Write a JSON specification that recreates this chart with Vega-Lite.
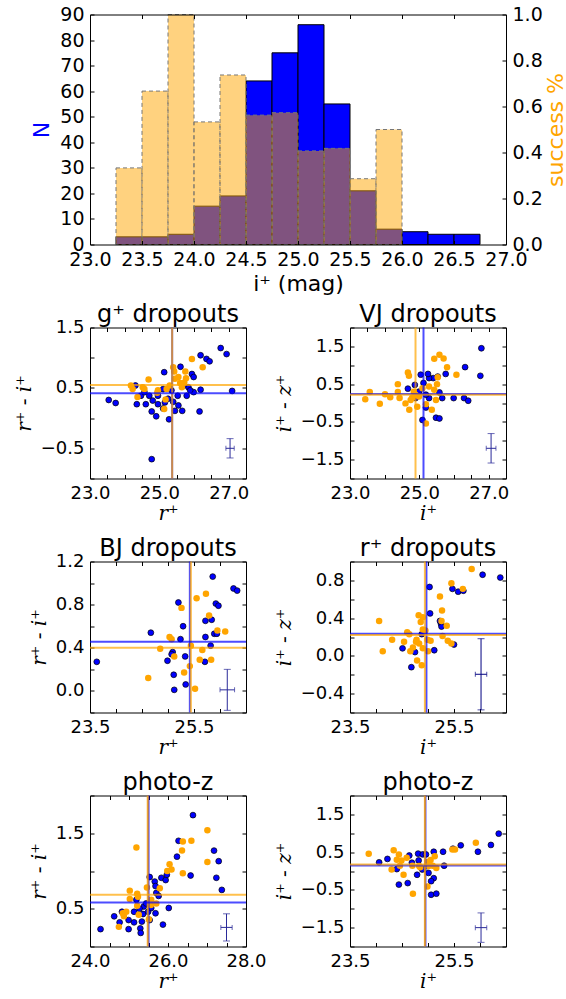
{
"$schema":"https://vega.github.io/schema/vega-lite/v6.json",
"padding":{"left":13,"top":5.5,"right":5,"bottom":5},
"bounds":"flush",
"columns":2,
"align":"each",
"spacing":{"row":83,"column":104},
"datasets":{
"hist":[
{"lo":23.25,"hi":23.5,"n":3,"s":0.333},
{"lo":23.5,"hi":23.75,"n":3,"s":0.667},
{"lo":23.75,"hi":24.0,"n":4,"s":1.0},
{"lo":24.0,"hi":24.25,"n":15,"s":0.533},
{"lo":24.25,"hi":24.5,"n":19,"s":0.737},
{"lo":24.5,"hi":24.75,"n":64,"s":0.5625},
{"lo":24.75,"hi":25.0,"n":75,"s":0.573},
{"lo":25.0,"hi":25.25,"n":86,"s":0.407},
{"lo":25.25,"hi":25.5,"n":55,"s":0.418},
{"lo":25.5,"hi":25.75,"n":21,"s":0.286},
{"lo":25.75,"hi":26.0,"n":6,"s":0.5},
{"lo":26.0,"hi":26.25,"n":5,"s":0},
{"lo":26.25,"hi":26.5,"n":4,"s":0},
{"lo":26.5,"hi":26.75,"n":4,"s":0}
],
"blue":[
{"p":1,"x":23.54,"y":0.30},{"p":1,"x":23.74,"y":0.25},{"p":1,"x":26.77,"y":1.16},{"p":1,"x":26.94,"y":1.06},{"p":1,"x":27.10,"y":0.45},{"p":1,"x":26.19,"y":1.04},{"p":1,"x":26.36,"y":0.98},{"p":1,"x":26.45,"y":0.94},{"p":1,"x":26.19,"y":0.47},{"p":1,"x":26.16,"y":0.11},{"p":1,"x":24.78,"y":-0.68},{"p":1,"x":25.28,"y":-0.02},{"p":1,"x":25.61,"y":0.85},{"p":1,"x":25.14,"y":0.76},{"p":1,"x":25.94,"y":0.73},{"p":1,"x":25.99,"y":0.68},{"p":1,"x":24.31,"y":0.54},{"p":1,"x":25.45,"y":0.12},{"p":1,"x":25.66,"y":0.12},{"p":1,"x":24.91,"y":0.03},{"p":1,"x":24.78,"y":0.11},{"p":1,"x":24.35,"y":0.23},{"p":1,"x":24.61,"y":0.23},{"p":1,"x":24.71,"y":0.37},{"p":1,"x":24.96,"y":0.37},{"p":1,"x":25.11,"y":0.48},{"p":1,"x":25.53,"y":0.37},{"p":1,"x":25.79,"y":0.37},{"p":1,"x":25.99,"y":0.43},{"p":1,"x":25.84,"y":0.51},{"p":1,"x":25.25,"y":0.32},{"p":1,"x":25.40,"y":0.27},{"p":1,"x":24.96,"y":0.23},{"p":1,"x":24.47,"y":0.37},{"p":1,"x":25.11,"y":0.16},{"p":1,"x":25.70,"y":0.54},{"p":1,"x":25.55,"y":0.21},{"p":1,"x":25.16,"y":0.26},{"p":1,"x":24.81,"y":0.29},{"p":1,"x":25.89,"y":0.46},{"p":1,"x":24.57,"y":0.43},{"p":1,"x":25.35,"y":0.46},
{"p":2,"x":26.79,"y":1.45},{"p":2,"x":26.76,"y":0.72},{"p":2,"x":26.32,"y":0.95},{"p":2,"x":25.76,"y":0.77},{"p":2,"x":25.53,"y":0.70},{"p":2,"x":25.40,"y":0.66},{"p":2,"x":25.28,"y":0.66},{"p":2,"x":25.25,"y":0.77},{"p":2,"x":25.04,"y":0.75},{"p":2,"x":25.12,"y":0.53},{"p":2,"x":24.87,"y":0.48},{"p":2,"x":24.67,"y":0.38},{"p":2,"x":24.99,"y":0.30},{"p":2,"x":25.58,"y":0.28},{"p":2,"x":25.66,"y":0.13},{"p":2,"x":25.99,"y":0.13},{"p":2,"x":26.29,"y":0.13},{"p":2,"x":26.41,"y":0.06},{"p":2,"x":25.28,"y":0.13},{"p":2,"x":25.19,"y":-0.12},{"p":2,"x":25.09,"y":-0.45},{"p":2,"x":25.48,"y":-0.39},{"p":2,"x":25.58,"y":-0.41},{"p":2,"x":24.89,"y":0.13},{"p":2,"x":25.19,"y":0.22},
{"p":3,"x":23.63,"y":0.27},{"p":3,"x":24.67,"y":0.54},{"p":3,"x":25.20,"y":0.82},{"p":3,"x":25.29,"y":0.60},{"p":3,"x":25.24,"y":0.48},{"p":3,"x":25.09,"y":0.36},{"p":3,"x":25.07,"y":0.34},{"p":3,"x":24.99,"y":0.28},{"p":3,"x":25.11,"y":0.15},{"p":3,"x":25.12,"y":0.01},{"p":3,"x":25.34,"y":0.06},{"p":3,"x":25.33,"y":0.32},{"p":3,"x":25.86,"y":1.06},{"p":3,"x":26.26,"y":0.95},{"p":3,"x":26.33,"y":0.93},{"p":3,"x":25.92,"y":0.81},{"p":3,"x":25.97,"y":0.79},{"p":3,"x":25.72,"y":0.65},{"p":3,"x":25.84,"y":0.66},{"p":3,"x":25.72,"y":0.50},{"p":3,"x":25.89,"y":0.53},{"p":3,"x":25.94,"y":0.53},{"p":3,"x":25.82,"y":0.42},{"p":3,"x":25.71,"y":0.27},
{"p":4,"x":24.51,"y":0.08},{"p":4,"x":24.75,"y":0.04},{"p":4,"x":24.68,"y":-0.12},{"p":4,"x":24.88,"y":0.23},{"p":4,"x":25.03,"y":0.73},{"p":4,"x":25.04,"y":0.45},{"p":4,"x":25.12,"y":0.06},{"p":4,"x":25.25,"y":0.34},{"p":4,"x":25.26,"y":0.31},{"p":4,"x":25.47,"y":0.71},{"p":4,"x":25.58,"y":0.68},{"p":4,"x":25.68,"y":0.69},{"p":4,"x":26.05,"y":0.86},{"p":4,"x":26.39,"y":0.83},{"p":4,"x":25.50,"y":0.12},{"p":4,"x":25.23,"y":0.37},
{"p":5,"x":24.27,"y":0.23},{"p":5,"x":24.62,"y":0.40},{"p":5,"x":24.76,"y":0.32},{"p":5,"x":24.82,"y":0.46},{"p":5,"x":24.99,"y":0.35},{"p":5,"x":24.99,"y":0.23},{"p":5,"x":25.13,"y":0.32},{"p":5,"x":25.13,"y":0.46},{"p":5,"x":25.19,"y":0.62},{"p":5,"x":25.29,"y":0.24},{"p":5,"x":25.30,"y":0.18},{"p":5,"x":25.33,"y":0.33},{"p":5,"x":25.36,"y":0.43},{"p":5,"x":25.38,"y":0.53},{"p":5,"x":25.44,"y":0.57},{"p":5,"x":25.53,"y":0.92},{"p":5,"x":25.66,"y":0.86},{"p":5,"x":25.68,"y":0.80},{"p":5,"x":25.70,"y":0.71},{"p":5,"x":25.76,"y":0.67},{"p":5,"x":25.68,"y":0.44},{"p":5,"x":25.53,"y":0.35},{"p":5,"x":25.83,"y":0.91},{"p":5,"x":25.94,"y":0.88},{"p":5,"x":25.97,"y":0.95},{"p":5,"x":25.87,"y":0.29},{"p":5,"x":26.02,"y":0.51},{"p":5,"x":26.23,"y":1.19},{"p":5,"x":26.27,"y":1.40},{"p":5,"x":26.58,"y":0.94},{"p":5,"x":26.64,"y":1.74},{"p":5,"x":27.18,"y":1.27},{"p":5,"x":27.30,"y":1.13},{"p":5,"x":27.24,"y":0.91},{"p":5,"x":27.38,"y":0.75},{"p":5,"x":25.49,"y":0.46},{"p":5,"x":25.57,"y":0.51},{"p":5,"x":25.27,"y":0.50},
{"p":6,"x":24.06,"y":0.23},{"p":6,"x":24.22,"y":0.32},{"p":6,"x":24.44,"y":-0.36},{"p":6,"x":24.61,"y":-0.32},{"p":6,"x":24.64,"y":0.41},{"p":6,"x":24.69,"y":0.22},{"p":6,"x":24.81,"y":0.46},{"p":6,"x":24.82,"y":0.28},{"p":6,"x":24.90,"y":0.44},{"p":6,"x":24.96,"y":0.44},{"p":6,"x":25.11,"y":0.51},{"p":6,"x":25.29,"y":0.51},{"p":6,"x":25.31,"y":0.14},{"p":6,"x":25.48,"y":0.59},{"p":6,"x":25.63,"y":0.68},{"p":6,"x":25.96,"y":0.51},{"p":6,"x":26.21,"y":0.69},{"p":6,"x":26.36,"y":0.99},{"p":6,"x":25.06,"y":-0.63},{"p":6,"x":25.16,"y":-0.60},{"p":6,"x":25.11,"y":-0.19},{"p":6,"x":25.06,"y":-0.27},{"p":6,"x":25.01,"y":-0.05},{"p":6,"x":24.79,"y":-0.10},{"p":6,"x":24.40,"y":0.05},{"p":6,"x":24.89,"y":0.04},{"p":6,"x":24.98,"y":0.13}
],
"orange":[
{"p":1,"x":24.18,"y":0.54},{"p":1,"x":24.23,"y":0.48},{"p":1,"x":24.52,"y":0.51},{"p":1,"x":24.57,"y":0.48},{"p":1,"x":24.69,"y":0.64},{"p":1,"x":24.37,"y":0.35},{"p":1,"x":24.94,"y":0.42},{"p":1,"x":25.18,"y":0.31},{"p":1,"x":25.14,"y":0.15},{"p":1,"x":25.21,"y":0.48},{"p":1,"x":25.40,"y":0.84},{"p":1,"x":25.43,"y":0.77},{"p":1,"x":25.45,"y":0.65},{"p":1,"x":25.55,"y":0.68},{"p":1,"x":25.60,"y":0.58},{"p":1,"x":25.72,"y":0.59},{"p":1,"x":25.75,"y":0.77},{"p":1,"x":25.77,"y":0.66},{"p":1,"x":25.65,"y":0.51},{"p":1,"x":25.94,"y":0.98},{"p":1,"x":26.25,"y":0.84},{"p":1,"x":25.30,"y":0.54},{"p":1,"x":24.96,"y":0.46},
{"p":2,"x":23.44,"y":0.10},{"p":2,"x":23.57,"y":0.29},{"p":2,"x":23.86,"y":-0.02},{"p":2,"x":24.01,"y":0.23},{"p":2,"x":24.16,"y":0.15},{"p":2,"x":24.38,"y":0.50},{"p":2,"x":24.38,"y":0.29},{"p":2,"x":24.43,"y":0.13},{"p":2,"x":24.67,"y":0.81},{"p":2,"x":24.70,"y":0.72},{"p":2,"x":24.60,"y":-0.01},{"p":2,"x":24.71,"y":-0.18},{"p":2,"x":24.94,"y":-0.10},{"p":2,"x":24.84,"y":0.30},{"p":2,"x":24.89,"y":0.22},{"p":2,"x":24.99,"y":0.17},{"p":2,"x":24.79,"y":0.13},{"p":2,"x":25.36,"y":-0.18},{"p":2,"x":25.19,"y":-0.54},{"p":2,"x":25.43,"y":1.17},{"p":2,"x":25.58,"y":1.28},{"p":2,"x":25.70,"y":1.18},{"p":2,"x":25.80,"y":0.95},{"p":2,"x":26.07,"y":0.75},{"p":2,"x":25.53,"y":0.68},{"p":2,"x":25.51,"y":0.50},{"p":2,"x":25.43,"y":0.35},{"p":2,"x":25.48,"y":0.08},{"p":2,"x":25.19,"y":-0.03},{"p":2,"x":25.09,"y":0.39},{"p":2,"x":25.28,"y":0.44},{"p":2,"x":24.75,"y":0.08},
{"p":3,"x":24.62,"y":0.12},{"p":3,"x":24.85,"y":0.39},{"p":3,"x":25.03,"y":0.50},{"p":3,"x":25.07,"y":0.48},{"p":3,"x":25.12,"y":0.32},{"p":3,"x":25.26,"y":0.77},{"p":3,"x":25.31,"y":0.17},{"p":3,"x":25.42,"y":0.23},{"p":3,"x":25.44,"y":0.42},{"p":3,"x":25.52,"y":0.02},{"p":3,"x":25.55,"y":0.86},{"p":3,"x":25.73,"y":0.90},{"p":3,"x":25.79,"y":0.70},{"p":3,"x":25.66,"y":0.38},{"p":3,"x":25.61,"y":0.29},{"p":3,"x":25.83,"y":0.29},{"p":3,"x":25.95,"y":0.56},{"p":3,"x":26.10,"y":0.55},
{"p":4,"x":24.06,"y":0.37},{"p":4,"x":24.13,"y":0.05},{"p":4,"x":24.31,"y":0.17},{"p":4,"x":24.54,"y":0.15},{"p":4,"x":24.60,"y":0.25},{"p":4,"x":24.64,"y":0.23},{"p":4,"x":24.66,"y":0.05},{"p":4,"x":24.71,"y":0.09},{"p":4,"x":24.77,"y":0.15},{"p":4,"x":24.78,"y":0.17},{"p":4,"x":24.82,"y":0.43},{"p":4,"x":24.86,"y":0.36},{"p":4,"x":24.90,"y":0.41},{"p":4,"x":24.79,"y":-0.05},{"p":4,"x":24.88,"y":-0.10},{"p":4,"x":24.90,"y":0.28},{"p":4,"x":24.95,"y":0.27},{"p":4,"x":24.99,"y":0.17},{"p":4,"x":25.00,"y":0.05},{"p":4,"x":24.90,"y":0.08},{"p":4,"x":24.83,"y":0.13},{"p":4,"x":25.05,"y":0.16},{"p":4,"x":25.23,"y":0.63},{"p":4,"x":25.27,"y":0.48},{"p":4,"x":25.26,"y":0.37},{"p":4,"x":25.28,"y":0.21},{"p":4,"x":25.36,"y":0.32},{"p":4,"x":25.38,"y":0.16},{"p":4,"x":25.45,"y":0.13},{"p":4,"x":25.45,"y":0.77},{"p":4,"x":25.67,"y":0.71},{"p":4,"x":25.84,"y":0.92},
{"p":5,"x":24.74,"y":0.26},{"p":5,"x":24.87,"y":0.40},{"p":5,"x":24.93,"y":0.46},{"p":5,"x":24.84,"y":0.44},{"p":5,"x":25.02,"y":0.74},{"p":5,"x":25.02,"y":0.63},{"p":5,"x":25.21,"y":0.70},{"p":5,"x":25.23,"y":0.66},{"p":5,"x":25.19,"y":1.31},{"p":5,"x":25.25,"y":0.42},{"p":5,"x":25.21,"y":0.54},{"p":5,"x":25.51,"y":0.36},{"p":5,"x":25.46,"y":0.78},{"p":5,"x":25.56,"y":0.55},{"p":5,"x":25.70,"y":0.57},{"p":5,"x":25.79,"y":0.77},{"p":5,"x":25.57,"y":0.62},{"p":5,"x":25.98,"y":1.0},{"p":5,"x":26.04,"y":1.09},{"p":5,"x":26.09,"y":1.02},{"p":5,"x":26.38,"y":0.97},{"p":5,"x":26.36,"y":1.27},{"p":5,"x":26.38,"y":1.39},{"p":5,"x":26.60,"y":1.40},{"p":5,"x":27.01,"y":1.54},{"p":5,"x":27.01,"y":1.12},
{"p":6,"x":23.86,"y":0.46},{"p":6,"x":24.30,"y":0.04},{"p":6,"x":24.34,"y":0.55},{"p":6,"x":24.40,"y":0.30},{"p":6,"x":24.44,"y":0.44},{"p":6,"x":24.46,"y":0.14},{"p":6,"x":24.49,"y":0.28},{"p":6,"x":24.53,"y":-0.10},{"p":6,"x":24.59,"y":0.35},{"p":6,"x":24.71,"y":-0.60},{"p":6,"x":24.70,"y":0.14},{"p":6,"x":24.85,"y":0.10},{"p":6,"x":24.99,"y":0.24},{"p":6,"x":25.01,"y":0.13},{"p":6,"x":24.99,"y":-0.41},{"p":6,"x":25.13,"y":0.39},{"p":6,"x":25.09,"y":0.14},{"p":6,"x":25.16,"y":0.08},{"p":6,"x":25.47,"y":0.57},{"p":6,"x":25.52,"y":0.57},{"p":6,"x":25.92,"y":0.75},{"p":6,"x":24.83,"y":0.13},{"p":6,"x":25.05,"y":0.29}
],
"vl":[
{"p":1,"g":"b","v":25.37},{"p":1,"g":"o","v":25.37},
{"p":2,"g":"b","v":25.12},{"p":2,"g":"o","v":24.89},
{"p":3,"g":"b","v":25.42},{"p":3,"g":"o","v":25.44},
{"p":4,"g":"b","v":24.97},{"p":4,"g":"o","v":24.94},
{"p":5,"g":"b","v":25.50},{"p":5,"g":"o","v":25.48},
{"p":6,"g":"b","v":24.95},{"p":6,"g":"o","v":24.94}
],
"hl":[
{"p":1,"g":"b","v":0.41},{"p":1,"g":"o","v":0.55},
{"p":2,"g":"b","v":0.24},{"p":2,"g":"o","v":0.22},
{"p":3,"g":"b","v":0.456},{"p":3,"g":"o","v":0.40},
{"p":4,"g":"b","v":0.234},{"p":4,"g":"o","v":0.22},
{"p":5,"g":"b","v":0.584},{"p":5,"g":"o","v":0.685},
{"p":6,"g":"b","v":0.145},{"p":6,"g":"o","v":0.17}
],
"err":[
{"p":1,"x":27.04,"y":-0.5,"xlo":26.92,"xhi":27.16,"ylo":-0.66,"yhi":-0.34},
{"p":2,"x":27.07,"y":-1.2,"xlo":26.93,"xhi":27.21,"ylo":-1.59,"yhi":-0.81},
{"p":3,"x":26.14,"y":0.01,"xlo":26.0,"xhi":26.28,"ylo":-0.18,"yhi":0.2},
{"p":4,"x":26.02,"y":-0.195,"xlo":25.91,"xhi":26.13,"ylo":-0.572,"yhi":0.182},
{"p":5,"x":27.5,"y":0.253,"xlo":27.355,"xhi":27.645,"ylo":0.073,"yhi":0.433},
{"p":6,"x":26.02,"y":-1.5,"xlo":25.91,"xhi":26.13,"ylo":-1.89,"yhi":-1.11}
]
},
"concat":[
{
"width":156,"height":230,
"view":{"stroke":null},
"data":{"name":"hist"},
"resolve":{"scale":{"y":"independent"},"axis":{"x":"independent"}},
"layer":[
{"transform":[{"filter":"datum.n>0"}],
"mark":{"type":"bar","color":"#0000ff","stroke":"black","strokeWidth":1},
"encoding":{
"x":{"field":"lo","type":"quantitative","scale":{"domain":[23,27],"range":[0,416],"nice":false,"zero":false},"axis":{"values":[23,23.5,24,24.5,25,25.5,26,26.5,27],"format":".1f","title":"i⁺ (mag)","titleX":208,"titlePadding":4,"titleFont":"DejaVu Sans","titleFontStyle":"normal","titleFontSize":22,"labelFontSize":19,"domain":true,"domainColor":"black","zindex":1}},
"x2":{"field":"hi"},
"y":{"field":"n","type":"quantitative","scale":{"domain":[0,90],"nice":false},"axis":{"values":[0,10,20,30,40,50,60,70,80,90],"format":"d","title":"N","titleColor":"#0000ff","titleFont":"DejaVu Sans","titleFontStyle":"normal","titleFontSize":22,"labelFontSize":19,"domain":true,"domainColor":"black","zindex":1}},
"y2":{"datum":0}}},
{"transform":[{"filter":"datum.s>0"}],
"mark":{"type":"bar","color":"#ffa500","fillOpacity":0.5,"stroke":"#777777","strokeDash":[4,3],"strokeWidth":1},
"encoding":{
"x":{"field":"lo","type":"quantitative","scale":{"domain":[23,27],"range":[0,416],"nice":false,"zero":false},"axis":{"orient":"top","values":[23,23.5,24,24.5,25,25.5,26,26.5,27],"labels":false,"title":null,"domain":true,"domainColor":"black","zindex":1}},
"x2":{"field":"hi"},
"y":{"field":"s","type":"quantitative","scale":{"domain":[0,1],"nice":false},"axis":{"orient":"right","offset":260,"values":[0,0.2,0.4,0.6,0.8,1.0],"format":".1f","title":"success %","titleColor":"#ffa500","titleAngle":270,"titleBaseline":"top","titlePadding":3,"titleFont":"DejaVu Sans","titleFontStyle":"normal","titleFontSize":22,"labelFontSize":19,"domain":true,"domainColor":"black","zindex":1}},
"y2":{"datum":0}}}
]
},
{"width":1,"height":1,"view":{"stroke":null},"data":{"values":[{"a":0}]},"mark":{"type":"point","opacity":0},"encoding":{"x":{"field":"a","type":"quantitative","axis":null},"y":{"field":"a","type":"quantitative","axis":null}}},

{"width":156,"height":151,"title":"g⁺ dropouts",
"resolve":{"axis":{"x":"independent","y":"independent"}},
"layer":[
{"data":{"name":"blue"},"transform":[{"filter":"datum.p==1"}],"mark":{"type":"circle","size":34,"color":"#0000ff","stroke":"black","strokeWidth":0.7,"opacity":1},
"encoding":{"x":{"field":"x","type":"quantitative","scale":{"domain":[23,27.5],"nice":false,"zero":false},"axis":{"values":[23,23.5,24,24.5,25,25.5,26,26.5,27,27.5],"labelExpr":"indexof([23,25,27],datum.value)>=0?format(datum.value,'.1f'):''","title":"r⁺"}},
"y":{"field":"y","type":"quantitative","scale":{"domain":[-1,1.5],"nice":false,"zero":false},"axis":{"values":[-1,-0.5,0,0.5,1,1.5],"labelExpr":"indexof([1.5,0.5,-0.5],datum.value)>=0?format(datum.value,'.1f'):''","title":"r⁺ - i⁺"}}}},
{"data":{"name":"orange"},"transform":[{"filter":"datum.p==1"}],"mark":{"type":"circle","size":42,"color":"#ffa500","opacity":1},
"encoding":{"x":{"field":"x","type":"quantitative","scale":{"domain":[23,27.5],"nice":false,"zero":false},"axis":null},"y":{"field":"y","type":"quantitative","scale":{"domain":[-1,1.5],"nice":false,"zero":false},"axis":null}}},
{"data":{"name":"vl"},"transform":[{"filter":"datum.p==1"}],"mark":{"type":"rule","strokeWidth":2,"opacity":0.7},
"encoding":{"x":{"field":"v","type":"quantitative","scale":{"domain":[23,27.5],"nice":false,"zero":false},"axis":{"orient":"top","values":[23,23.5,24,24.5,25,25.5,26,26.5,27,27.5],"labels":false,"title":null}},"color":{"field":"g","type":"nominal","scale":{"domain":["b","o"],"range":["#0000ff","#ffa500"]},"legend":null}}},
{"data":{"name":"hl"},"transform":[{"filter":"datum.p==1"}],"mark":{"type":"rule","strokeWidth":2,"opacity":0.7},
"encoding":{"y":{"field":"v","type":"quantitative","scale":{"domain":[-1,1.5],"nice":false,"zero":false},"axis":{"orient":"right","values":[-1,-0.5,0,0.5,1,1.5],"labels":false,"title":null}},"color":{"field":"g","type":"nominal","scale":{"domain":["b","o"],"range":["#0000ff","#ffa500"]},"legend":null}}},
{"data":{"name":"err"},"transform":[{"filter":"datum.p==1"}],"mark":{"type":"errorbar","ticks":{"size":7},"color":"#2a2a99"},
"encoding":{"x":{"field":"x","type":"quantitative","axis":null},"y":{"field":"ylo","type":"quantitative","axis":null},"y2":{"field":"yhi"}}},
{"data":{"name":"err"},"transform":[{"filter":"datum.p==1"}],"mark":{"type":"errorbar","ticks":{"size":5},"color":"#2a2a99"},
"encoding":{"y":{"field":"y","type":"quantitative","axis":null},"x":{"field":"xlo","type":"quantitative","axis":null},"x2":{"field":"xhi"}}}
]},

{"width":156,"height":151,"title":"VJ dropouts",
"resolve":{"axis":{"x":"independent","y":"independent"}},
"layer":[
{"data":{"name":"blue"},"transform":[{"filter":"datum.p==2"}],"mark":{"type":"circle","size":34,"color":"#0000ff","stroke":"black","strokeWidth":0.7,"opacity":1},
"encoding":{"x":{"field":"x","type":"quantitative","scale":{"domain":[23,27.5],"nice":false,"zero":false},"axis":{"values":[23,23.5,24,24.5,25,25.5,26,26.5,27,27.5],"labelExpr":"indexof([23,25,27],datum.value)>=0?format(datum.value,'.1f'):''","title":"i⁺"}},
"y":{"field":"y","type":"quantitative","scale":{"domain":[-2,2],"nice":false,"zero":false},"axis":{"values":[-2,-1.5,-1,-0.5,0,0.5,1,1.5,2],"labelExpr":"indexof([1.5,0.5,-0.5,-1.5],datum.value)>=0?format(datum.value,'.1f'):''","title":"i⁺ - z⁺"}}}},
{"data":{"name":"orange"},"transform":[{"filter":"datum.p==2"}],"mark":{"type":"circle","size":42,"color":"#ffa500","opacity":1},
"encoding":{"x":{"field":"x","type":"quantitative","scale":{"domain":[23,27.5],"nice":false,"zero":false},"axis":null},"y":{"field":"y","type":"quantitative","scale":{"domain":[-2,2],"nice":false,"zero":false},"axis":null}}},
{"data":{"name":"vl"},"transform":[{"filter":"datum.p==2"}],"mark":{"type":"rule","strokeWidth":2,"opacity":0.7},
"encoding":{"x":{"field":"v","type":"quantitative","scale":{"domain":[23,27.5],"nice":false,"zero":false},"axis":{"orient":"top","values":[23,23.5,24,24.5,25,25.5,26,26.5,27,27.5],"labels":false,"title":null}},"color":{"field":"g","type":"nominal","scale":{"domain":["b","o"],"range":["#0000ff","#ffa500"]},"legend":null}}},
{"data":{"name":"hl"},"transform":[{"filter":"datum.p==2"}],"mark":{"type":"rule","strokeWidth":2,"opacity":0.7},
"encoding":{"y":{"field":"v","type":"quantitative","scale":{"domain":[-2,2],"nice":false,"zero":false},"axis":{"orient":"right","values":[-2,-1.5,-1,-0.5,0,0.5,1,1.5,2],"labels":false,"title":null}},"color":{"field":"g","type":"nominal","scale":{"domain":["b","o"],"range":["#0000ff","#ffa500"]},"legend":null}}},
{"data":{"name":"err"},"transform":[{"filter":"datum.p==2"}],"mark":{"type":"errorbar","ticks":{"size":7},"color":"#2a2a99"},
"encoding":{"x":{"field":"x","type":"quantitative","axis":null},"y":{"field":"ylo","type":"quantitative","axis":null},"y2":{"field":"yhi"}}},
{"data":{"name":"err"},"transform":[{"filter":"datum.p==2"}],"mark":{"type":"errorbar","ticks":{"size":5},"color":"#2a2a99"},
"encoding":{"y":{"field":"y","type":"quantitative","axis":null},"x":{"field":"xlo","type":"quantitative","axis":null},"x2":{"field":"xhi"}}}
]},

{"width":156,"height":151,"title":"BJ dropouts",
"resolve":{"axis":{"x":"independent","y":"independent"}},
"layer":[
{"data":{"name":"blue"},"transform":[{"filter":"datum.p==3"}],"mark":{"type":"circle","size":34,"color":"#0000ff","stroke":"black","strokeWidth":0.7,"opacity":1},
"encoding":{"x":{"field":"x","type":"quantitative","scale":{"domain":[23.5,26.5],"nice":false,"zero":false},"axis":{"values":[23.5,24,24.5,25,25.5,26,26.5],"labelExpr":"indexof([23.5,25.5],datum.value)>=0?format(datum.value,'.1f'):''","title":"r⁺"}},
"y":{"field":"y","type":"quantitative","scale":{"domain":[-0.2,1.2],"nice":false,"zero":false},"axis":{"values":[-0.2,0,0.2,0.4,0.6,0.8,1.0,1.2],"labelExpr":"indexof([1.2,0.8,0.4,0],datum.value)>=0?format(datum.value,'.1f'):''","title":"r⁺ - i⁺"}}}},
{"data":{"name":"orange"},"transform":[{"filter":"datum.p==3"}],"mark":{"type":"circle","size":42,"color":"#ffa500","opacity":1},
"encoding":{"x":{"field":"x","type":"quantitative","scale":{"domain":[23.5,26.5],"nice":false,"zero":false},"axis":null},"y":{"field":"y","type":"quantitative","scale":{"domain":[-0.2,1.2],"nice":false,"zero":false},"axis":null}}},
{"data":{"name":"vl"},"transform":[{"filter":"datum.p==3"}],"mark":{"type":"rule","strokeWidth":2,"opacity":0.7},
"encoding":{"x":{"field":"v","type":"quantitative","scale":{"domain":[23.5,26.5],"nice":false,"zero":false},"axis":{"orient":"top","values":[23.5,24,24.5,25,25.5,26,26.5],"labels":false,"title":null}},"color":{"field":"g","type":"nominal","scale":{"domain":["b","o"],"range":["#0000ff","#ffa500"]},"legend":null}}},
{"data":{"name":"hl"},"transform":[{"filter":"datum.p==3"}],"mark":{"type":"rule","strokeWidth":2,"opacity":0.7},
"encoding":{"y":{"field":"v","type":"quantitative","scale":{"domain":[-0.2,1.2],"nice":false,"zero":false},"axis":{"orient":"right","values":[-0.2,0,0.2,0.4,0.6,0.8,1.0,1.2],"labels":false,"title":null}},"color":{"field":"g","type":"nominal","scale":{"domain":["b","o"],"range":["#0000ff","#ffa500"]},"legend":null}}},
{"data":{"name":"err"},"transform":[{"filter":"datum.p==3"}],"mark":{"type":"errorbar","ticks":{"size":7},"color":"#2a2a99"},
"encoding":{"x":{"field":"x","type":"quantitative","axis":null},"y":{"field":"ylo","type":"quantitative","axis":null},"y2":{"field":"yhi"}}},
{"data":{"name":"err"},"transform":[{"filter":"datum.p==3"}],"mark":{"type":"errorbar","ticks":{"size":5},"color":"#2a2a99"},
"encoding":{"y":{"field":"y","type":"quantitative","axis":null},"x":{"field":"xlo","type":"quantitative","axis":null},"x2":{"field":"xhi"}}}
]},

{"width":156,"height":151,"title":"r⁺ dropouts",
"resolve":{"axis":{"x":"independent","y":"independent"}},
"layer":[
{"data":{"name":"blue"},"transform":[{"filter":"datum.p==4"}],"mark":{"type":"circle","size":34,"color":"#0000ff","stroke":"black","strokeWidth":0.7,"opacity":1},
"encoding":{"x":{"field":"x","type":"quantitative","scale":{"domain":[23.5,26.5],"nice":false,"zero":false},"axis":{"values":[23.5,24,24.5,25,25.5,26,26.5],"labelExpr":"indexof([23.5,25.5],datum.value)>=0?format(datum.value,'.1f'):''","title":"i⁺"}},
"y":{"field":"y","type":"quantitative","scale":{"domain":[-0.6,1.0],"nice":false,"zero":false},"axis":{"values":[-0.6,-0.4,-0.2,0,0.2,0.4,0.6,0.8,1.0],"labelExpr":"indexof([0.8,0.4,0,-0.4],datum.value)>=0?format(datum.value,'.1f'):''","title":"i⁺ - z⁺"}}}},
{"data":{"name":"orange"},"transform":[{"filter":"datum.p==4"}],"mark":{"type":"circle","size":42,"color":"#ffa500","opacity":1},
"encoding":{"x":{"field":"x","type":"quantitative","scale":{"domain":[23.5,26.5],"nice":false,"zero":false},"axis":null},"y":{"field":"y","type":"quantitative","scale":{"domain":[-0.6,1.0],"nice":false,"zero":false},"axis":null}}},
{"data":{"name":"vl"},"transform":[{"filter":"datum.p==4"}],"mark":{"type":"rule","strokeWidth":2,"opacity":0.7},
"encoding":{"x":{"field":"v","type":"quantitative","scale":{"domain":[23.5,26.5],"nice":false,"zero":false},"axis":{"orient":"top","values":[23.5,24,24.5,25,25.5,26,26.5],"labels":false,"title":null}},"color":{"field":"g","type":"nominal","scale":{"domain":["b","o"],"range":["#0000ff","#ffa500"]},"legend":null}}},
{"data":{"name":"hl"},"transform":[{"filter":"datum.p==4"}],"mark":{"type":"rule","strokeWidth":2,"opacity":0.7},
"encoding":{"y":{"field":"v","type":"quantitative","scale":{"domain":[-0.6,1.0],"nice":false,"zero":false},"axis":{"orient":"right","values":[-0.6,-0.4,-0.2,0,0.2,0.4,0.6,0.8,1.0],"labels":false,"title":null}},"color":{"field":"g","type":"nominal","scale":{"domain":["b","o"],"range":["#0000ff","#ffa500"]},"legend":null}}},
{"data":{"name":"err"},"transform":[{"filter":"datum.p==4"}],"mark":{"type":"errorbar","ticks":{"size":7},"color":"#000080"},
"encoding":{"x":{"field":"x","type":"quantitative","axis":null},"y":{"field":"ylo","type":"quantitative","axis":null},"y2":{"field":"yhi"}}},
{"data":{"name":"err"},"transform":[{"filter":"datum.p==4"}],"mark":{"type":"errorbar","ticks":{"size":5},"color":"#000080"},
"encoding":{"y":{"field":"y","type":"quantitative","axis":null},"x":{"field":"xlo","type":"quantitative","axis":null},"x2":{"field":"xhi"}}}
]},

{"width":156,"height":151,"title":"photo-z",
"resolve":{"axis":{"x":"independent","y":"independent"}},
"layer":[
{"data":{"name":"blue"},"transform":[{"filter":"datum.p==5"}],"mark":{"type":"circle","size":34,"color":"#0000ff","stroke":"black","strokeWidth":0.7,"opacity":1},
"encoding":{"x":{"field":"x","type":"quantitative","scale":{"domain":[24,28],"nice":false,"zero":false},"axis":{"values":[24,24.5,25,25.5,26,26.5,27,27.5,28],"labelExpr":"indexof([24,26,28],datum.value)>=0?format(datum.value,'.1f'):''","title":"r⁺"}},
"y":{"field":"y","type":"quantitative","scale":{"domain":[0,2],"nice":false,"zero":false},"axis":{"values":[0,0.5,1,1.5,2],"labelExpr":"indexof([1.5,0.5],datum.value)>=0?format(datum.value,'.1f'):''","title":"r⁺ - i⁺"}}}},
{"data":{"name":"orange"},"transform":[{"filter":"datum.p==5"}],"mark":{"type":"circle","size":42,"color":"#ffa500","opacity":1},
"encoding":{"x":{"field":"x","type":"quantitative","scale":{"domain":[24,28],"nice":false,"zero":false},"axis":null},"y":{"field":"y","type":"quantitative","scale":{"domain":[0,2],"nice":false,"zero":false},"axis":null}}},
{"data":{"name":"vl"},"transform":[{"filter":"datum.p==5"}],"mark":{"type":"rule","strokeWidth":2,"opacity":0.8},
"encoding":{"x":{"field":"v","type":"quantitative","scale":{"domain":[24,28],"nice":false,"zero":false},"axis":{"orient":"top","values":[24,24.5,25,25.5,26,26.5,27,27.5,28],"labels":false,"title":null}},"color":{"field":"g","type":"nominal","scale":{"domain":["b","o"],"range":["#0000ff","#ffa500"]},"legend":null}}},
{"data":{"name":"hl"},"transform":[{"filter":"datum.p==5"}],"mark":{"type":"rule","strokeWidth":2,"opacity":0.7},
"encoding":{"y":{"field":"v","type":"quantitative","scale":{"domain":[0,2],"nice":false,"zero":false},"axis":{"orient":"right","values":[0,0.5,1,1.5,2],"labels":false,"title":null}},"color":{"field":"g","type":"nominal","scale":{"domain":["b","o"],"range":["#0000ff","#ffa500"]},"legend":null}}},
{"data":{"name":"err"},"transform":[{"filter":"datum.p==5"}],"mark":{"type":"errorbar","ticks":{"size":7},"color":"#2a2a99"},
"encoding":{"x":{"field":"x","type":"quantitative","axis":null},"y":{"field":"ylo","type":"quantitative","axis":null},"y2":{"field":"yhi"}}},
{"data":{"name":"err"},"transform":[{"filter":"datum.p==5"}],"mark":{"type":"errorbar","ticks":{"size":5},"color":"#2a2a99"},
"encoding":{"y":{"field":"y","type":"quantitative","axis":null},"x":{"field":"xlo","type":"quantitative","axis":null},"x2":{"field":"xhi"}}}
]},

{"width":156,"height":151,"title":"photo-z",
"resolve":{"axis":{"x":"independent","y":"independent"}},
"layer":[
{"data":{"name":"blue"},"transform":[{"filter":"datum.p==6"}],"mark":{"type":"circle","size":34,"color":"#0000ff","stroke":"black","strokeWidth":0.7,"opacity":1},
"encoding":{"x":{"field":"x","type":"quantitative","scale":{"domain":[23.5,26.5],"nice":false,"zero":false},"axis":{"values":[23.5,24,24.5,25,25.5,26,26.5],"labelExpr":"indexof([23.5,25.5],datum.value)>=0?format(datum.value,'.1f'):''","title":"i⁺"}},
"y":{"field":"y","type":"quantitative","scale":{"domain":[-2,2],"nice":false,"zero":false},"axis":{"values":[-2,-1.5,-1,-0.5,0,0.5,1,1.5,2],"labelExpr":"indexof([1.5,0.5,-0.5,-1.5],datum.value)>=0?format(datum.value,'.1f'):''","title":"i⁺ - z⁺"}}}},
{"data":{"name":"orange"},"transform":[{"filter":"datum.p==6"}],"mark":{"type":"circle","size":42,"color":"#ffa500","opacity":1},
"encoding":{"x":{"field":"x","type":"quantitative","scale":{"domain":[23.5,26.5],"nice":false,"zero":false},"axis":null},"y":{"field":"y","type":"quantitative","scale":{"domain":[-2,2],"nice":false,"zero":false},"axis":null}}},
{"data":{"name":"vl"},"transform":[{"filter":"datum.p==6"}],"mark":{"type":"rule","strokeWidth":2,"opacity":0.8},
"encoding":{"x":{"field":"v","type":"quantitative","scale":{"domain":[23.5,26.5],"nice":false,"zero":false},"axis":{"orient":"top","values":[23.5,24,24.5,25,25.5,26,26.5],"labels":false,"title":null}},"color":{"field":"g","type":"nominal","scale":{"domain":["b","o"],"range":["#0000ff","#ffa500"]},"legend":null}}},
{"data":{"name":"hl"},"transform":[{"filter":"datum.p==6"}],"mark":{"type":"rule","strokeWidth":2,"opacity":0.7},
"encoding":{"y":{"field":"v","type":"quantitative","scale":{"domain":[-2,2],"nice":false,"zero":false},"axis":{"orient":"right","values":[-2,-1.5,-1,-0.5,0,0.5,1,1.5,2],"labels":false,"title":null}},"color":{"field":"g","type":"nominal","scale":{"domain":["b","o"],"range":["#0000ff","#ffa500"]},"legend":null}}},
{"data":{"name":"err"},"transform":[{"filter":"datum.p==6"}],"mark":{"type":"errorbar","ticks":{"size":7},"color":"#2a2a99"},
"encoding":{"x":{"field":"x","type":"quantitative","axis":null},"y":{"field":"ylo","type":"quantitative","axis":null},"y2":{"field":"yhi"}}},
{"data":{"name":"err"},"transform":[{"filter":"datum.p==6"}],"mark":{"type":"errorbar","ticks":{"size":5},"color":"#2a2a99"},
"encoding":{"y":{"field":"y","type":"quantitative","axis":null},"x":{"field":"xlo","type":"quantitative","axis":null},"x2":{"field":"xhi"}}}
]}
],
"config":{
"font":"DejaVu Sans",
"view":{"stroke":"black","strokeWidth":1},
"title":{"font":"DejaVu Sans","fontSize":24,"fontWeight":"normal","color":"black","offset":-8},
"axis":{"domain":false,"grid":false,"tickSize":-4,"tickColor":"black","tickWidth":1,"labelColor":"black","labelFont":"DejaVu Sans","labelFontSize":18,"labelPadding":10,"labelFlush":false,"labelOverlap":false,"titleFont":"DejaVu Serif","titleFontStyle":"italic","titleFontWeight":"normal","titleFontSize":20,"titleColor":"black"},
"axisX":{"titlePadding":1},
"axisY":{"titlePadding":6}
}
}
